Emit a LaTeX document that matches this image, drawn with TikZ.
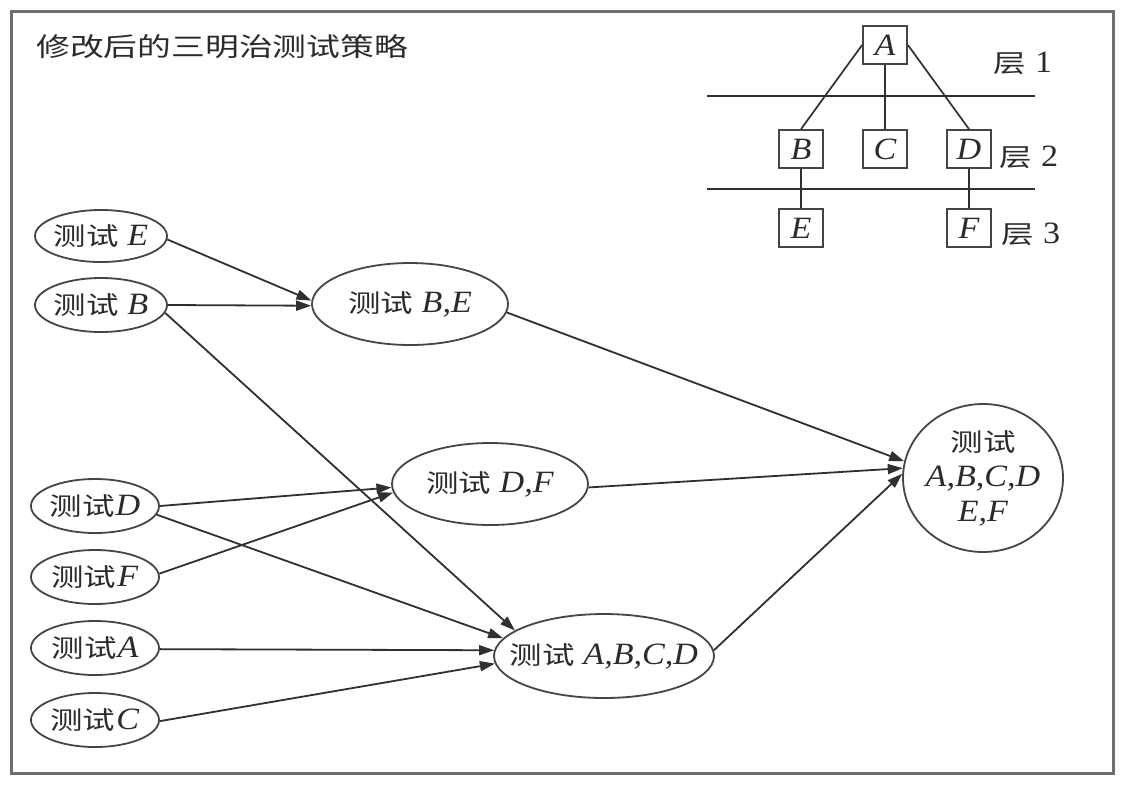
\documentclass[tikz,border=0pt]{standalone}
\usepackage{fontspec}
\setmainfont{Liberation Serif}[FakeStretch=1.1]
\newfontfamily\cjk{Noto Sans CJK SC}[FakeStretch=1.3]
\usetikzlibrary{shapes.geometric,arrows.meta}
\definecolor{lc}{HTML}{454545}
\definecolor{ac}{HTML}{303030}
\definecolor{tc}{HTML}{2B2B2B}
\definecolor{fc}{HTML}{6E6E6E}
\newcommand\zh[1]{{\fontsize{25}{35}\selectfont\cjk #1}}
\begin{document}
\begin{tikzpicture}[x=1pt,y=-1pt,
  ell/.style={ellipse,draw=lc,line width=1.8pt,inner sep=0pt,text=tc,font=\fontsize{31}{35}\selectfont},
  box/.style={rectangle,draw=lc,line width=1.8pt,inner sep=0pt,minimum width=44pt,minimum height=38pt,text=tc,font=\fontsize{31}{35}\selectfont\itshape},
  arr/.style={draw=ac,line width=1.8pt,-{Triangle[length=15pt,width=10pt]}},
  tline/.style={draw=ac,line width=1.7pt},
  lab/.style={text=tc,font=\fontsize{31}{35}\selectfont,inner sep=0pt}
]
\useasboundingbox (0,0) rectangle (1123,788);
\fill[white] (0,0) rectangle (1123,788);
\draw[draw=fc,line width=3pt] (11,11) rectangle (1113,773);
% title
\node[lab,anchor=west] (title) at (36,47) {{\fontsize{26}{30}\selectfont\cjk 修改后的三明治测试策略}};
% tree
\node[box] (nA) at (885,45) {A};
\node[box] (nB) at (801,149) {B};
\node[box] (nC) at (885,149) {C};
\node[box] (nD) at (969,149) {D};
\node[box] (nE) at (801,228) {E};
\node[box] (nF) at (969,228) {F};
\draw[tline] (nA.west) -- (nB.north);
\draw[tline] (nA.south) -- (nC.north);
\draw[tline] (nA.east) -- (nD.north);
\draw[tline] (nB.south) -- (nE.north);
\draw[tline] (nD.south) -- (nF.north);
\draw[tline] (707,96) -- (1035,96);
\draw[tline] (707,189) -- (1035,189);
\node[lab] (L1) at (1023,63) {\zh{层}\ 1};
\node[lab] (L2) at (1029,157) {\zh{层}\ 2};
\node[lab] (L3) at (1031,234) {\zh{层}\ 3};
% ellipses
\node[ell,minimum width=132pt,minimum height=52pt] (tE) at (101,236) {\makebox[0pt]{\zh{测试}\ \textit{E}}};
\node[ell,minimum width=132pt,minimum height=54pt] (tB) at (101,305) {\makebox[0pt]{\zh{测试}\ \textit{B}}};
\node[ell,minimum width=128pt,minimum height=54pt] (tD) at (95,506) {\makebox[0pt]{\zh{测试}\hspace{1pt}\textit{D}}};
\node[ell,minimum width=128pt,minimum height=54pt] (tF) at (95,577) {\makebox[0pt]{\zh{测试}\hspace{1pt}\textit{F}}};
\node[ell,minimum width=128pt,minimum height=54pt] (tA) at (95,648) {\makebox[0pt]{\zh{测试}\hspace{1pt}\textit{A}}};
\node[ell,minimum width=128pt,minimum height=54pt] (tC) at (95,720) {\makebox[0pt]{\zh{测试}\hspace{1pt}\textit{C}}};
\node[ell,minimum width=196pt,minimum height=82pt] (tBE) at (410,304) {\makebox[0pt]{\zh{测试}\ \textit{B,E}}};
\node[ell,minimum width=196pt,minimum height=82pt] (tDF) at (490,484) {\makebox[0pt]{\zh{测试}\ \textit{D,F}}};
\node[ell,minimum width=220pt,minimum height=84pt] (tABCD) at (604,656) {\makebox[0pt]{\zh{测试}\ \textit{A,B,C,D}}};
\node[ell,minimum width=160pt,minimum height=148pt,align=center] (all) at (983,478) {\makebox[0pt]{\zh{测试}}\\ \makebox[0pt]{\textit{A,B,C,D}}\\ \makebox[0pt]{\textit{E,F}}};
% connectors
\draw[arr] (tE.-3) -- (tBE.178);
\draw[arr] (tB.0) -- (tBE.181);
\draw[arr] (tB.-7) -- (tABCD.164);
\draw[arr] (tD.0) -- (tDF.182);
\draw[arr] (tD.-8) -- (tABCD.170);
\draw[arr] (tF.3) -- (tDF.185);
\draw[arr] (tA.-1) -- (tABCD.177);
\draw[arr] (tC.-1) -- (tABCD.184);
\draw[arr] (tBE.-5) -- (all.168);
\draw[arr] (tDF.-2) -- (all.173);
\draw[arr] (tABCD.3) -- (all.177);
\end{tikzpicture}
\end{document}
